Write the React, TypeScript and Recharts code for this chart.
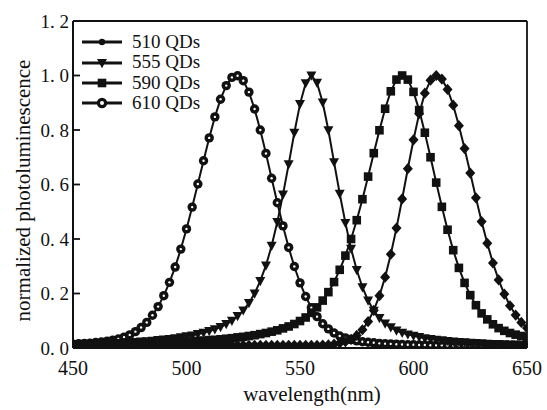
import React from 'react';
import { LineChart, Line, XAxis, YAxis, ReferenceLine, Legend } from 'recharts';

const wavelengths = [
  450, 452.5, 455, 457.5, 460, 462.5, 465, 467.5, 470, 472.5,
  475, 477.5, 480, 482.5, 485, 487.5, 490, 492.5, 495, 497.5,
  500, 502.5, 505, 507.5, 510, 512.5, 515, 517.5, 520, 522.5,
  525, 527.5, 530, 532.5, 535, 537.5, 540, 542.5, 545, 547.5,
  550, 552.5, 555, 557.5, 560, 562.5, 565, 567.5, 570, 572.5,
  575, 577.5, 580, 582.5, 585, 587.5, 590, 592.5, 595, 597.5,
  600, 602.5, 605, 607.5, 610, 612.5, 615, 617.5, 620, 622.5,
  625, 627.5, 630, 632.5, 635, 637.5, 640, 642.5, 645, 647.5,
  650,
];

const qd510 = [
  0.014, 0.016, 0.017, 0.018, 0.020, 0.022, 0.025, 0.029, 0.033, 0.040,
  0.048, 0.060, 0.075, 0.094, 0.120, 0.152, 0.192, 0.241, 0.297, 0.363,
  0.437, 0.517, 0.602, 0.687, 0.771, 0.848, 0.913, 0.963, 0.993, 0.999,
  0.981, 0.939, 0.877, 0.800, 0.714, 0.623, 0.533, 0.448, 0.369, 0.299,
  0.239, 0.189, 0.148, 0.115, 0.089, 0.070, 0.055, 0.044, 0.037, 0.031,
  0.026, 0.023, 0.021, 0.019, 0.017, 0.016, 0.015, 0.014, 0.013, 0.012,
  0.012, 0.011, 0.011, 0.010, 0.010, 0.010, 0.009, 0.009, 0.009, 0.009,
  0.008, 0.008, 0.008, 0.008, 0.008, 0.007, 0.007, 0.007, 0.007, 0.007,
  0.007,
];

const qd555 = [
  0.012, 0.013, 0.013, 0.014, 0.015, 0.016, 0.017, 0.018, 0.018, 0.020,
  0.021, 0.022, 0.024, 0.025, 0.027, 0.029, 0.031, 0.033, 0.036, 0.039,
  0.043, 0.046, 0.051, 0.056, 0.062, 0.069, 0.077, 0.088, 0.100, 0.117,
  0.138, 0.165, 0.200, 0.246, 0.303, 0.375, 0.462, 0.563, 0.674, 0.790,
  0.895, 0.972, 1.000, 0.973, 0.901, 0.799, 0.682, 0.566, 0.459, 0.364,
  0.286, 0.223, 0.174, 0.137, 0.110, 0.090, 0.076, 0.064, 0.056, 0.050,
  0.045, 0.040, 0.036, 0.033, 0.030, 0.028, 0.026, 0.024, 0.022, 0.021,
  0.019, 0.018, 0.017, 0.016, 0.015, 0.015, 0.014, 0.013, 0.013, 0.012,
  0.012,
];

const qd590 = [
  0.010, 0.011, 0.011, 0.011, 0.012, 0.012, 0.013, 0.013, 0.014, 0.014,
  0.015, 0.015, 0.016, 0.017, 0.017, 0.018, 0.019, 0.020, 0.021, 0.022,
  0.023, 0.024, 0.026, 0.027, 0.029, 0.030, 0.032, 0.034, 0.036, 0.039,
  0.041, 0.044, 0.047, 0.051, 0.055, 0.060, 0.065, 0.072, 0.079, 0.088,
  0.099, 0.112, 0.129, 0.149, 0.174, 0.205, 0.242, 0.287, 0.339, 0.400,
  0.469, 0.546, 0.629, 0.715, 0.799, 0.878, 0.942, 0.985, 1.000, 0.985,
  0.940, 0.873, 0.790, 0.700, 0.607, 0.518, 0.434, 0.359, 0.294, 0.239,
  0.194, 0.157, 0.127, 0.105, 0.087, 0.073, 0.063, 0.055, 0.049, 0.044,
  0.040,
];

const qd610 = [
  0.010, 0.010, 0.010, 0.010, 0.010, 0.010, 0.010, 0.010, 0.010, 0.010,
  0.010, 0.010, 0.010, 0.010, 0.010, 0.010, 0.010, 0.010, 0.010, 0.010,
  0.010, 0.010, 0.010, 0.010, 0.010, 0.010, 0.010, 0.010, 0.010, 0.010,
  0.010, 0.010, 0.010, 0.010, 0.010, 0.010, 0.010, 0.010, 0.010, 0.010,
  0.010, 0.010, 0.010, 0.010, 0.011, 0.012, 0.014, 0.018, 0.023, 0.032,
  0.046, 0.067, 0.097, 0.138, 0.192, 0.260, 0.344, 0.440, 0.547, 0.658,
  0.764, 0.860, 0.935, 0.983, 1.000, 0.987, 0.949, 0.891, 0.816, 0.732,
  0.642, 0.551, 0.464, 0.384, 0.312, 0.250, 0.198, 0.155, 0.121, 0.094,
  0.073,
];

const seriesNames = ['510 QDs', '555 QDs', '590 QDs', '610 QDs'];
const xTicks = [450, 500, 550, 600, 650];
const yTicks = [0, 0.2, 0.4, 0.6, 0.8, 1.0, 1.2];

const data = wavelengths.map((w, i) => ({
  w,
  a: qd510[i],
  b: qd555[i],
  c: qd590[i],
  d: qd610[i],
}));

const FONT = '"Liberation Serif", "DejaVu Serif", "Times New Roman", serif';
const INK = '#111';

type Shape = 'dot' | 'circle' | 'tri' | 'square' | 'diamond';

function drawMarker(shape: Shape, cx: number, cy: number, key?: string) {
  switch (shape) {
    case 'dot':
      return <circle key={key} cx={cx} cy={cy} r={3.2} fill={INK} />;
    case 'circle':
      return (
        <g key={key}>
          <circle cx={cx} cy={cy} r={4.7} fill={INK} />
          <circle cx={cx} cy={cy} r={1.2} fill="#fff" />
        </g>
      );
    case 'tri':
      return (
        <polygon
          key={key}
          points={`${cx - 5},${cy - 4} ${cx + 5},${cy - 4} ${cx},${cy + 5.2}`}
          fill={INK}
        />
      );
    case 'square':
      return <rect key={key} x={cx - 4.3} y={cy - 4.3} width={8.6} height={8.6} fill={INK} />;
    case 'diamond':
    default:
      return (
        <polygon
          key={key}
          points={`${cx},${cy - 5.6} ${cx + 5},${cy} ${cx},${cy + 5.6} ${cx - 5},${cy}`}
          fill={INK}
        />
      );
  }
}

const makeDot = (shape: Shape, id: string) => (p: any) => {
  if (p == null || p.cx == null || p.cy == null) return <g key={`${id}-${p?.index}`} />;
  return drawMarker(shape, p.cx, p.cy, `${id}-${p.index}`);
};

const legendShapes: Shape[] = ['dot', 'tri', 'square', 'circle'];

const LegendContent = (props: any) => {
  const items = (props.payload && props.payload.length ? props.payload.map((p: any) => p.value) : seriesNames) as string[];
  return (
    <div style={{ fontFamily: FONT, fontSize: 19, color: INK, lineHeight: '20.4px' }}>
      {items.map((name, i) => (
        <div key={name} style={{ display: 'flex', alignItems: 'center', height: 20.4 }}>
          <svg width={44} height={14} style={{ display: 'block' }}>
            <line x1={2} y1={7} x2={42} y2={7} stroke={INK} strokeWidth={3} />
            {i === 3 ? (
              <g>
                <circle cx={22} cy={7} r={5.2} fill={INK} />
                <circle cx={22} cy={7} r={2} fill="#fff" />
              </g>
            ) : (
              drawMarker(legendShapes[i], 22, 7)
            )}
          </svg>
          <span style={{ marginLeft: 8, whiteSpace: 'nowrap' }}>{name}</span>
        </div>
      ))}
    </div>
  );
};

const fmtY = (v: number) => {
  const s = v.toFixed(1);
  return s.replace('.', '. ');
};

const YTick = (p: any) => (
  <text
    x={p.x}
    y={p.y}
    textAnchor="end"
    dominantBaseline="central"
    fontFamily={FONT}
    fontSize={19}
    fill={INK}
  >
    {fmtY(p.payload.value)}
  </text>
);

const XTick = (p: any) => (
  <text x={p.x} y={p.y} textAnchor="middle" dy="0.71em" fontFamily={FONT} fontSize={20} fill={INK}>
    {p.payload.value}
  </text>
);

const YLabel = (p: any) => {
  const vb = p.viewBox || { x: 0, y: 0, width: 0, height: 0 };
  const cx = vb.x + 23;
  const cy = vb.y + vb.height / 2 + 6;
  return (
    <text
      x={cx}
      y={cy}
      transform={`rotate(-90 ${cx} ${cy})`}
      textAnchor="middle"
      dominantBaseline="central"
      fontFamily={FONT}
      fontSize={21}
      fill={INK}
    >
      normalized photoluminescence
    </text>
  );
};

const XLabel = (p: any) => {
  const vb = p.viewBox || { x: 0, y: 0, width: 0, height: 0 };
  const cx = vb.x + vb.width / 2 + 12;
  const cy = vb.y + 53;
  return (
    <text x={cx} y={cy} textAnchor="middle" fontFamily={FONT} fontSize={21} fill={INK}>
      wavelength(nm)
    </text>
  );
};

export default function App() {
  return (
    <div style={{ position: 'absolute', left: 0, top: 0, width: 547, height: 410, background: '#fff' }}>
      <LineChart width={547} height={410} data={data} margin={{ top: 21, right: 20, bottom: 0, left: 0 }}>
        <XAxis
          dataKey="w"
          type="number"
          domain={[450, 650]}
          ticks={xTicks}
          allowDataOverflow
          height={62}
          tickSize={-6}
          tickMargin={19}
          tick={<XTick />}
          axisLine={{ stroke: INK, strokeWidth: 2 }}
          tickLine={{ stroke: INK, strokeWidth: 1.5 }}
          label={<XLabel />}
        />
        <YAxis
          type="number"
          domain={[0, 1.2]}
          ticks={yTicks}
          allowDataOverflow
          width={73}
          tickSize={-7}
          tickMargin={11}
          tick={<YTick />}
          axisLine={{ stroke: INK, strokeWidth: 2 }}
          tickLine={{ stroke: INK, strokeWidth: 1.8 }}
          label={<YLabel />}
        />
        <ReferenceLine y={1.2} stroke={INK} strokeWidth={1.8} />
        <ReferenceLine x={650} stroke={INK} strokeWidth={1.8} />
        <Legend
          layout="vertical"
          align="center"
          verticalAlign="middle"
          wrapperStyle={{ left: 80, top: 32, width: 'auto' }}
          content={<LegendContent />}
        />
        <Line name={seriesNames[0]} dataKey="a" stroke={INK} strokeWidth={2} dot={makeDot('circle', 'a')} isAnimationActive={false} />
        <Line name={seriesNames[1]} dataKey="b" stroke={INK} strokeWidth={2} dot={makeDot('tri', 'b')} isAnimationActive={false} />
        <Line name={seriesNames[2]} dataKey="c" stroke={INK} strokeWidth={2} dot={makeDot('square', 'c')} isAnimationActive={false} />
        <Line name={seriesNames[3]} dataKey="d" stroke={INK} strokeWidth={2} dot={makeDot('diamond', 'd')} isAnimationActive={false} />
      </LineChart>
    </div>
  );
}
